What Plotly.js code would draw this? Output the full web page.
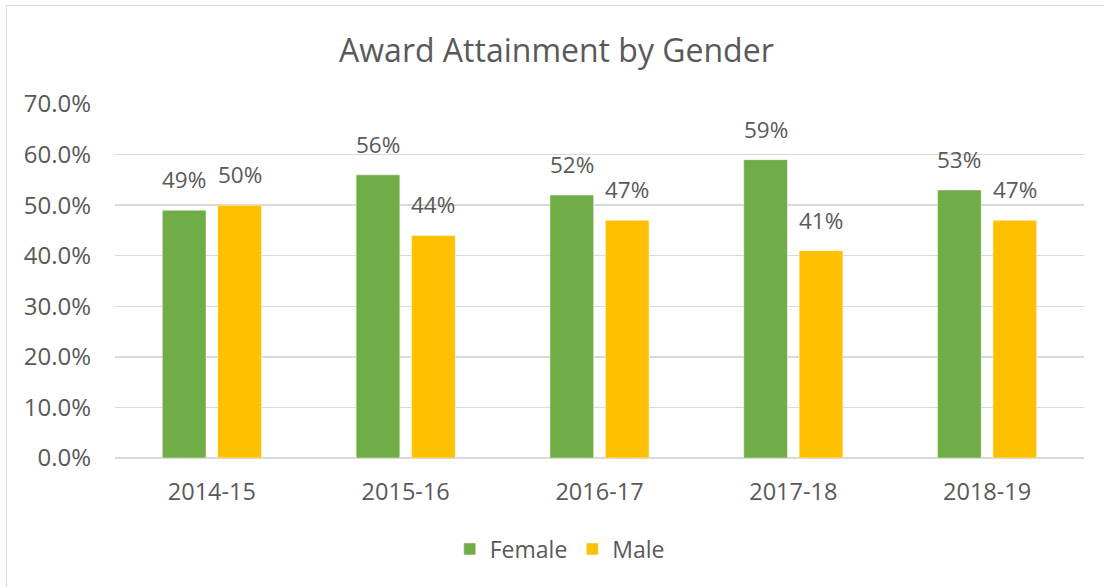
<!DOCTYPE html>
<html>
<head>
<meta charset="utf-8">
<script src="https://cdn.plot.ly/plotly-3.0.1.min.js"></script>
<style>
  html, body { margin: 0; padding: 0; overflow: hidden; background: #fff; }
  #chart { width: 1104px; height: 587px; }
  #frame { position: absolute; left: 6px; top: 5px; width: 1200px; height: 700px;
           border-left: 1.5px solid #d9d9d9; border-top: 1.5px solid #d9d9d9; pointer-events: none; }
</style>
</head>
<body>
<div id="chart"></div>
<div id="frame"></div>
<script>
const categories = ["2014-15", "2015-16", "2016-17", "2017-18", "2018-19"];
const female = [0.49, 0.56, 0.52, 0.59, 0.53];
const male = [0.50, 0.44, 0.47, 0.41, 0.47];
const seriesNames = ["Female", "Male"];
const seriesColors = ["#70AD47", "#FFC000"];

const FONT = "Open Sans, Noto Sans, sans-serif";
const GREY = "#595959";

const traces = [female, male].map((vals, i) => ({
  type: "bar",
  name: seriesNames[i],
  x: categories,
  y: vals,
  marker: { color: seriesColors[i], line: { color: "rgba(255,255,255,0.6)", width: 0.8 } },
  hoverinfo: "skip"
}));

// Data labels placed through the axes (category + value), offset to each bar in the group
const annotations = [];
[female, male].forEach((vals, i) => {
  vals.forEach((v, j) => {
    annotations.push({
      x: categories[j], y: v, xref: "x", yref: "y",
      text: Math.round(v * 100) + "%",
      showarrow: false, yanchor: "bottom", xanchor: "center",
      xshift: i === 0 ? -27.7 : 27.7, yshift: 13,
      font: { family: FONT, size: 22.5, color: GREY }
    });
  });
});

const layout = {
  width: 1104, height: 587,
  paper_bgcolor: "#ffffff", plot_bgcolor: "#ffffff",
  margin: { l: 115, r: 20, t: 104, b: 129 },
  font: { family: FONT, color: GREY, size: 23 },
  title: { text: "Award Attainment by Gender", font: { family: FONT, size: 32, color: GREY },
           x: 0.504, xref: "container", xanchor: "center", y: 1 - 51 / 587, yref: "container", yanchor: "middle" },
  barmode: "group",
  bargap: 0.428,
  bargroupgap: 0.211,
  xaxis: {
    type: "category",
    showgrid: false, showline: false, ticks: "",
    tickfont: { family: FONT, size: 23.5, color: GREY },
    ticklabelstandoff: 17
  },
  yaxis: {
    range: [0, 0.7], dtick: 0.1, tick0: 0,
    tickformat: ".1%",
    showgrid: true, gridcolor: "#d9d9d9", gridwidth: 1.3,
    zeroline: true, zerolinecolor: "#d9d9d9", zerolinewidth: 1.3,
    showline: false, ticks: "",
    tickfont: { family: FONT, size: 24, color: GREY },
    ticklabelstandoff: 23
  },
  showlegend: true,
  legend: {
    orientation: "h", xref: "container", yref: "container",
    x: 0.507, xanchor: "center", y: 1 - 549 / 587, yanchor: "middle",
    font: { family: FONT, size: 23, color: GREY },
    itemwidth: 30, tracegroupgap: 0
  },
  annotations: annotations
};

Plotly.newPlot("chart", traces, layout, { displayModeBar: false, staticPlot: true });
</script>
</body>
</html>
